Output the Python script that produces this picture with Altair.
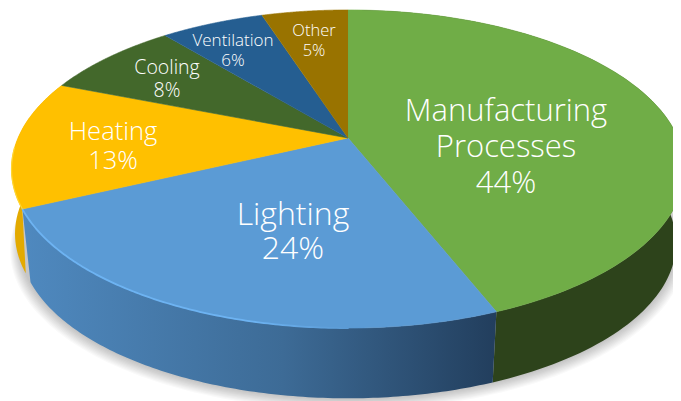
import math
import altair as alt
import pandas as pd

categories = ["Manufacturing Processes", "Lighting", "Heating", "Cooling", "Ventilation", "Other"]
shares = [44, 24, 13, 8, 6, 5]
top_colors = ["#70ad47", "#5b9bd5", "#ffc000", "#43682b", "#255e91", "#997300"]

# label layout (reference pixels), separate from the data
label_lines = [["Manufacturing", "Processes"], ["Lighting"], ["Heating"], ["Cooling"], ["Ventilation"], ["Other"]]
label_cx = [506, 293, 113, 167, 233, 314]
label_cy = [147.5, 232, 146, 79, 51, 41]
label_size = [31, 32, 25.5, 19.5, 17, 16.5]
label_step = [36, 34, 29, 23, 20, 20]

# perspective projection of the pie's circle
CX, CY, A, B, K = 348, 138, 330, 153, 0.195
BASE_CY, BASE_SCALE = 213, 0.975


def project(theta, r=1.0, base=False, grow=0.0, drop=0.0):
    u, v = r * math.sin(theta), r * math.cos(theta)
    d = 1 + K * v
    s = (BASE_SCALE if base else 1.0) * (1 + grow)
    cy = (BASE_CY if base else CY) + drop
    return CX + s * A * u / d, cy - s * B * v / d


def ang(pct):
    return 2 * math.pi * pct / 100


def arc(p0, p1, n=120, **kw):
    return [project(ang(p0 + (p1 - p0) * i / n), **kw) for i in range(n + 1)]


def frame(pts):
    return pd.DataFrame({"x": [p[0] for p in pts], "y": [p[1] for p in pts], "i": list(range(len(pts)))})


X = alt.X("x:Q", axis=None, scale=alt.Scale(domain=[8, 673], nice=False, zero=False))
Y = alt.Y("y:Q", axis=None, scale=alt.Scale(domain=[401, 8], nice=False, zero=False))


def poly(pts, fill, opacity=1.0, stroke=False):
    kw = {"stroke": fill, "strokeWidth": 0.6} if stroke else {"strokeWidth": 0}
    return alt.Chart(frame(pts)).mark_line(
        filled=True, fill=fill, opacity=opacity, clip=True, interpolate="linear", **kw
    ).encode(x=X, y=Y, order=alt.Order("i:Q"))


def edge(pts, stroke, width):
    return alt.Chart(frame(pts)).mark_line(
        stroke=stroke, strokeWidth=width, clip=True, strokeCap="round"
    ).encode(x=X, y=Y, order=alt.Order("i:Q"))


starts = [sum(shares[:i]) for i in range(len(shares))]
ends = [sum(shares[: i + 1]) for i in range(len(shares))]

layers = []

# soft shadow beneath the base
for k in range(1, 11):
    layers.append(poly(arc(0, 100, 240, base=True, grow=0.003 * k, drop=0.6 * k), "#000000", 0.022))


def wall(p0, p1, **kw):
    return arc(p0, p1, 120) + arc(p1, p0, 120, base=True, **kw)


blue_side = alt.Gradient(
    gradient="linear", x1=0, x2=1, y1=0, y2=0,
    stops=[
        alt.GradientStop(offset=0, color="#4f89bf"),
        alt.GradientStop(offset=0.55, color="#3d6b96"),
        alt.GradientStop(offset=1, color="#223e5d"),
    ],
)
layers.append(poly(wall(starts[2], ends[2], grow=0.015, drop=-10), "#e3aa00"))
layers.append(poly(wall(starts[0], ends[0]), "#2d431b"))
layers.append(poly(wall(starts[1], ends[1]), blue_side))

# top faces
for s0, s1, c in zip(starts, ends, top_colors):
    layers.append(poly([(CX, CY)] + arc(s0, s1, 120), c, stroke=True))

# bevel highlights on the front-left rim
rim_blue = alt.Gradient(
    gradient="linear", x1=0, x2=1, y1=0, y2=0,
    stops=[
        alt.GradientStop(offset=0, color="#6db3f2"),
        alt.GradientStop(offset=0.7, color="#6db3f2"),
        alt.GradientStop(offset=1, color="#5b9bd5"),
    ],
)
layers.append(edge(arc(50, ends[1], 120), rim_blue, 1.8))
layers.append(edge(arc(ends[1], 74, 40), "#ffd633", 1.2))

# labels
rows = []
for lines, share, cx, cy, size, step in zip(label_lines, shares, label_cx, label_cy, label_size, label_step):
    texts = lines + [f"{share}%"]
    for i, t in enumerate(texts):
        rows.append({"x": cx, "y": cy + (i - (len(texts) - 1) / 2) * step, "t": t, "s": size})
labels = alt.Chart(pd.DataFrame(rows)).mark_text(
    font="Open Sans", fontWeight=300, color="#ffffff", align="center", baseline="middle"
).encode(
    x=X, y=Y, text="t:N",
    size=alt.Size("s:Q", legend=None, scale=None),
)
layers.append(labels)

chart = alt.layer(*layers).properties(
    width=665, height=393, padding=0, background="#ffffff",
    autosize=alt.AutoSizeParams(type="none"),
).configure_view(stroke=None)

chart.save("out.html", embed_options={"renderer": "svg", "actions": False})
